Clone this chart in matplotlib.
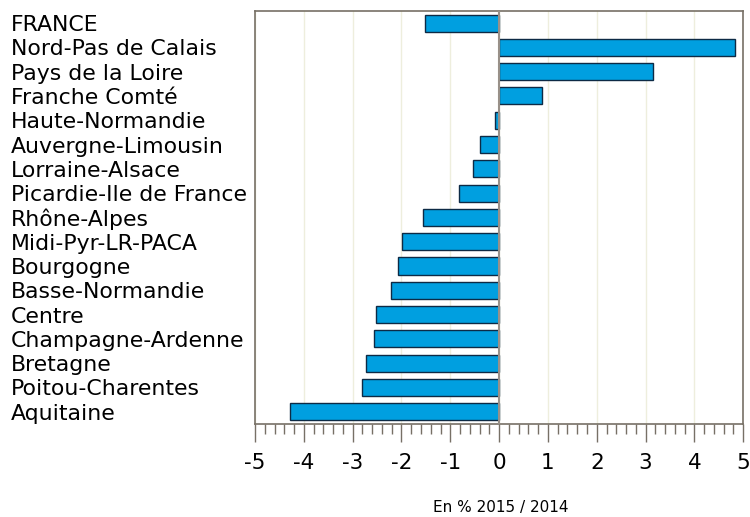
import numpy as np
import matplotlib.pyplot as plt

regions = ['FRANCE', 'Nord-Pas de Calais', 'Pays de la Loire', 'Franche Comté',
           'Haute-Normandie', 'Auvergne-Limousin', 'Lorraine-Alsace',
           'Picardie-Ile de France', 'Rhône-Alpes', 'Midi-Pyr-LR-PACA',
           'Bourgogne', 'Basse-Normandie', 'Centre', 'Champagne-Ardenne',
           'Bretagne', 'Poitou-Charentes', 'Aquitaine']
values = [-1.52, 4.84, 3.15, 0.87, -0.08, -0.40, -0.53, -0.82, -1.55,
          -1.99, -2.08, -2.22, -2.52, -2.56, -2.72, -2.81, -4.28]
xticks = [-5, -4, -3, -2, -1, 0, 1, 2, 3, 4, 5]

plt.rcParams['font.family'] = ['DejaVu Sans']

fig = plt.figure(figsize=(7.5, 5.17), dpi=100)
ax = fig.add_axes([0.340, 0.180, 0.651, 0.799])

y = np.arange(len(regions))
ax.barh(y, values, height=0.7, color='#009fe0', edgecolor='#0d2a45', linewidth=1.0, zorder=3)
ax.axvline(0, color='#999088', linewidth=1.5, zorder=4)

ax.set_xlim(-5, 5)
ax.set_ylim(len(regions) - 0.5, -0.5)
ax.set_xticks(xticks)
ax.set_xticklabels([str(t) for t in xticks], fontsize=15.5)
ax.set_xticks(np.arange(-5, 5.01, 0.2), minor=True)
ax.tick_params(axis='x', which='major', direction='out', length=13, width=1, color='#777066', pad=8)
ax.tick_params(axis='x', which='minor', direction='out', length=7, width=1, color='#777066')
ax.grid(axis='x', which='major', color='#eeeedd', linewidth=1, zorder=0)

ax.set_yticks(y)
ax.set_yticklabels(regions, fontsize=15.8, ha='left')
ax.tick_params(axis='y', length=0, pad=176)

for s in ax.spines.values():
    s.set_color('#777066')
    s.set_linewidth(1.2)

fig.text(501 / 750, 2 / 517, 'En % 2015 / 2014', ha='center', va='bottom', fontsize=11)

fig.savefig('out.png', dpi=100)
